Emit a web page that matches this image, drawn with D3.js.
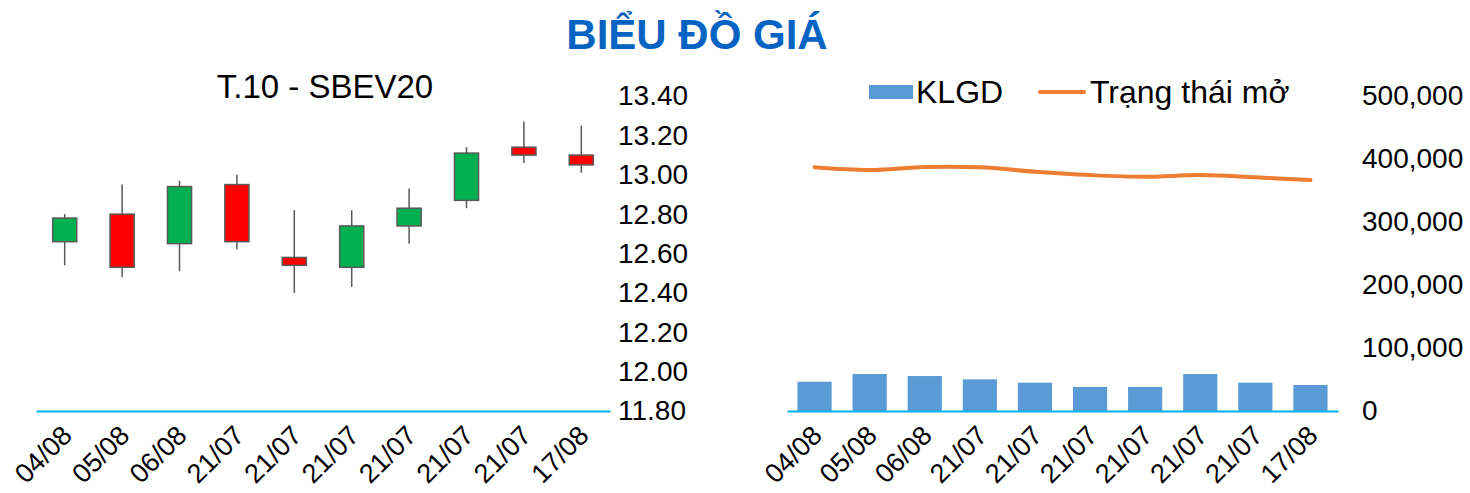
<!DOCTYPE html>
<html>
<head>
<meta charset="utf-8">
<script src="https://cdn.jsdelivr.net/npm/d3@7"></script>
<style>
    body { margin: 0; background: #fff; }
    svg text { font-family: "Liberation Sans", Arial, sans-serif; fill: #000; }
</style>
</head>
<body>
<div class="container"></div>
<script>
// categories (same for both charts)
const dates = ['04/08', '05/08', '06/08', '21/07', '21/07', '21/07', '21/07', '21/07', '21/07', '17/08'];

// candlestick values
const openVals  = [12.66, 12.80, 12.65, 12.95, 12.58, 12.53, 12.74, 12.87, 13.14, 13.10];
const highVals  = [12.80, 12.95, 12.97, 13.00, 12.82, 12.82, 12.93, 13.14, 13.27, 13.25];
const lowVals   = [12.54, 12.48, 12.51, 12.62, 12.40, 12.43, 12.65, 12.83, 13.06, 13.01];
const closeVals = [12.78, 12.53, 12.94, 12.66, 12.54, 12.74, 12.83, 13.11, 13.10, 13.05];
const priceTicks = [11.8, 12.0, 12.2, 12.4, 12.6, 12.8, 13.0, 13.2, 13.4];

// volume + open interest
const klgd = [46500, 58700, 55500, 50300, 44900, 38100, 38100, 58700, 44900, 41300];
const openInterest = [386800, 382500, 387200, 386800, 379800, 374500, 371800, 374500, 370900, 366600];
const volTicks = [0, 100000, 200000, 300000, 400000, 500000];

const width = 1470;
const height = 493;

const svg = d3.select('.container').append('svg').attr('width', width).attr('height', height);

svg.append('text')
    .attr('x', 697).attr('y', 49)
    .attr('text-anchor', 'middle')
    .style('font-size', '42px').style('font-weight', 'bold').style('fill', '#0563c1')
    .text('BIỂU ĐỒ GIÁ');

// ---------- left: candlestick ----------
const x1 = d3.scaleBand().domain(d3.range(dates.length)).range([36, 610]);
const y1 = d3.scaleLinear().domain([11.8, 13.4]).range([411, 96]);

svg.append('text')
    .attr('x', 325).attr('y', 98)
    .attr('text-anchor', 'middle')
    .style('font-size', '33px')
    .text('T.10 - SBEV20');

const candles = svg.append('g');
const bodyW = x1.bandwidth() * 0.42;

candles.selectAll('line.wick').data(dates).enter().append('line')
    .attr('class', 'wick')
    .attr('x1', (d, i) => x1(i) + x1.bandwidth() / 2)
    .attr('x2', (d, i) => x1(i) + x1.bandwidth() / 2)
    .attr('y1', (d, i) => y1(highVals[i]))
    .attr('y2', (d, i) => y1(lowVals[i]))
    .attr('stroke', '#595959').attr('stroke-width', 1.5);

candles.selectAll('rect.body').data(dates).enter().append('rect')
    .attr('class', 'body')
    .attr('x', (d, i) => x1(i) + x1.bandwidth() / 2 - bodyW / 2)
    .attr('width', bodyW)
    .attr('y', (d, i) => y1(Math.max(openVals[i], closeVals[i])))
    .attr('height', (d, i) => Math.abs(y1(openVals[i]) - y1(closeVals[i])))
    .attr('fill', (d, i) => closeVals[i] >= openVals[i] ? '#00b050' : '#ff0000')
    .attr('stroke', '#595959').attr('stroke-width', 1.5);

const yAxis1 = svg.append('g')
    .attr('transform', 'translate(610,0)')
    .call(d3.axisRight(y1).tickValues(priceTicks).tickFormat(d3.format('.2f')).tickSize(0).tickPadding(8));
yAxis1.select('.domain').remove();
yAxis1.selectAll('text').style('font-size', '28px');

const xAxis1 = svg.append('g')
    .attr('transform', 'translate(0,411)')
    .call(d3.axisBottom(x1).tickFormat(i => dates[i]).tickSize(0));
xAxis1.select('.domain').attr('stroke', '#00b0f0').attr('stroke-width', 2);
xAxis1.selectAll('text')
    .style('font-size', '27px')
    .attr('text-anchor', 'end')
    .attr('y', 0).attr('dy', 0)
    .attr('transform', 'translate(9,26) rotate(-45)');

// ---------- right: volume + open interest ----------
const x2 = d3.scaleBand().domain(d3.range(dates.length)).range([787, 1338]).paddingInner(0.38).paddingOuter(0.19);
const x2c = d3.scaleBand().domain(d3.range(dates.length)).range([787, 1338]);
const y2 = d3.scaleLinear().domain([0, 500000]).range([411, 96]);

svg.append('g').selectAll('rect').data(klgd).enter().append('rect')
    .attr('x', (d, i) => x2(i))
    .attr('width', x2.bandwidth())
    .attr('y', d => y2(d))
    .attr('height', d => y2(0) - y2(d))
    .attr('fill', '#5b9bd5');

const line = d3.line()
    .x((d, i) => x2c(i) + x2c.bandwidth() / 2)
    .y(d => y2(d))
    .curve(d3.curveCatmullRom);

svg.append('path')
    .datum(openInterest)
    .attr('d', line)
    .attr('fill', 'none')
    .attr('stroke', '#ed7d31')
    .attr('stroke-width', 4)
    .attr('stroke-linecap', 'round');

const yAxis2 = svg.append('g')
    .attr('transform', 'translate(1338,0)')
    .call(d3.axisRight(y2).tickValues(volTicks).tickFormat(d3.format(',')).tickSize(0).tickPadding(24));
yAxis2.select('.domain').remove();
yAxis2.selectAll('text').style('font-size', '28px');

const xAxis2 = svg.append('g')
    .attr('transform', 'translate(0,411)')
    .call(d3.axisBottom(x2c).tickFormat(i => dates[i]).tickSize(0));
xAxis2.select('.domain').attr('stroke', '#00b0f0').attr('stroke-width', 2);
xAxis2.selectAll('text')
    .style('font-size', '27px')
    .attr('text-anchor', 'end')
    .attr('y', 0).attr('dy', 0)
    .attr('transform', 'translate(9,26) rotate(-45)');

// legend
const legend = svg.append('g');
legend.append('rect').attr('x', 869).attr('y', 85).attr('width', 44).attr('height', 14).attr('fill', '#5b9bd5');
legend.append('text').attr('x', 916).attr('y', 103).style('font-size', '32px').text('KLGD');
legend.append('line').attr('x1', 1040).attr('x2', 1084).attr('y1', 92).attr('y2', 92)
    .attr('stroke', '#ed7d31').attr('stroke-width', 4).attr('stroke-linecap', 'round');
legend.append('text').attr('x', 1090).attr('y', 103).style('font-size', '32px').text('Trạng thái mở');
</script>
</body>
</html>
